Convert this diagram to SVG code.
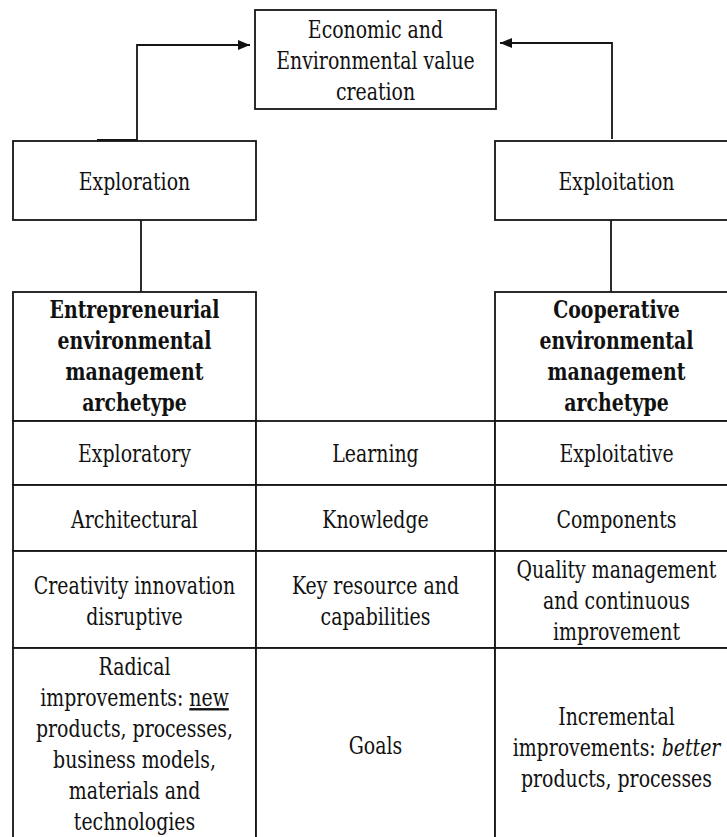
<svg xmlns="http://www.w3.org/2000/svg" width="727" height="837" viewBox="0 0 727 837">
<style>
  .box { fill: #ffffff; stroke: #151515; stroke-width: 1.8; }
  .t { font-family: 'DejaVu Serif Condensed', 'DejaVu Serif', serif; font-stretch: condensed; font-size: 21px; fill: #111; text-anchor: middle; transform-box: fill-box; transform-origin: center; transform: scaleY(1.13); }
  .b { font-weight: bold; font-size: 21px; }
  .conn { fill: none; stroke: #151515; stroke-width: 1.8; }
</style>
<defs>
  <marker id="arrow" markerUnits="userSpaceOnUse" viewBox="0 0 12 10" refX="12" refY="5" markerWidth="12" markerHeight="10" orient="auto">
    <path d="M0,0 L12,5 L0,10 z" fill="#111"/>
  </marker>
</defs>
<rect x="0" y="0" width="727" height="837" fill="#ffffff"/>

<g id="value-creation">
  <rect class="box" x="255" y="10" width="241" height="99"/>
  <text class="t" x="375.5" y="37">Economic and</text>
  <text class="t" x="375.5" y="68">Environmental value</text>
  <text class="t" x="375.5" y="99">creation</text>
</g>

<g id="exploration">
  <rect class="box" x="13" y="141" width="243" height="79"/>
  <text class="t" x="134.5" y="189">Exploration</text>
</g>

<g id="exploitation">
  <rect class="box" x="495" y="141" width="243" height="79"/>
  <text class="t" x="616.5" y="189">Exploitation</text>
</g>

<g id="connectors">
  <path class="conn" d="M97,140 H137 V45 H250" marker-end="url(#arrow)"/>
  <path class="conn" d="M612,139 V43 H500" marker-end="url(#arrow)" stroke="#444"/>
  <path class="conn" d="M141,220 V292"/>
  <path class="conn" d="M611,220 V292"/>
</g>

<g id="entrepreneurial-archetype">
  <rect class="box" x="13" y="292" width="243" height="129"/>
  <text class="t b" x="134.5" y="317">Entrepreneurial</text>
  <text class="t b" x="134.5" y="348">environmental</text>
  <text class="t b" x="134.5" y="379">management</text>
  <text class="t b" x="134.5" y="410">archetype</text>
</g>

<g id="cooperative-archetype">
  <rect class="box" x="495" y="292" width="243" height="129"/>
  <text class="t b" x="616.5" y="317">Cooperative</text>
  <text class="t b" x="616.5" y="348">environmental</text>
  <text class="t b" x="616.5" y="379">management</text>
  <text class="t b" x="616.5" y="410">archetype</text>
</g>

<g id="exploratory">
  <rect class="box" x="13" y="421" width="243" height="64"/>
  <text class="t" x="134.5" y="461">Exploratory</text>
</g>
<g id="learning">
  <rect class="box" x="256" y="421" width="239" height="64"/>
  <text class="t" x="375.5" y="461">Learning</text>
</g>
<g id="exploitative">
  <rect class="box" x="495" y="421" width="243" height="64"/>
  <text class="t" x="616.5" y="461">Exploitative</text>
</g>

<g id="architectural">
  <rect class="box" x="13" y="485" width="243" height="66"/>
  <text class="t" x="134.5" y="527">Architectural</text>
</g>
<g id="knowledge">
  <rect class="box" x="256" y="485" width="239" height="66"/>
  <text class="t" x="375.5" y="527">Knowledge</text>
</g>
<g id="components">
  <rect class="box" x="495" y="485" width="243" height="66"/>
  <text class="t" x="616.5" y="527">Components</text>
</g>

<g id="creativity">
  <rect class="box" x="13" y="551" width="243" height="97"/>
  <text class="t" x="134.5" y="593">Creativity innovation</text>
  <text class="t" x="134.5" y="624">disruptive</text>
</g>
<g id="key-resource">
  <rect class="box" x="256" y="551" width="239" height="97"/>
  <text class="t" x="375.5" y="593">Key resource and</text>
  <text class="t" x="375.5" y="624">capabilities</text>
</g>
<g id="quality-management">
  <rect class="box" x="495" y="551" width="243" height="97"/>
  <text class="t" x="616.5" y="577">Quality management</text>
  <text class="t" x="616.5" y="608">and continuous</text>
  <text class="t" x="616.5" y="639">improvement</text>
</g>

<g id="radical">
  <rect class="box" x="13" y="648" width="243" height="210"/>
  <text class="t" x="134.5" y="674">Radical</text>
  <text class="t" x="134.5" y="705">improvements: <tspan text-decoration="underline">new</tspan></text>
  <text class="t" x="134.5" y="736">products, processes,</text>
  <text class="t" x="134.5" y="767">business models,</text>
  <text class="t" x="134.5" y="798">materials and</text>
  <text class="t" x="134.5" y="829">technologies</text>
</g>
<g id="goals">
  <rect class="box" x="256" y="648" width="239" height="210"/>
  <text class="t" x="375.5" y="753">Goals</text>
</g>
<g id="incremental">
  <rect class="box" x="495" y="648" width="243" height="210"/>
  <text class="t" x="616.5" y="724">Incremental</text>
  <text class="t" x="616.5" y="755">improvements: <tspan font-style="italic">better</tspan></text>
  <text class="t" x="616.5" y="786">products, processes</text>
</g>
</svg>
